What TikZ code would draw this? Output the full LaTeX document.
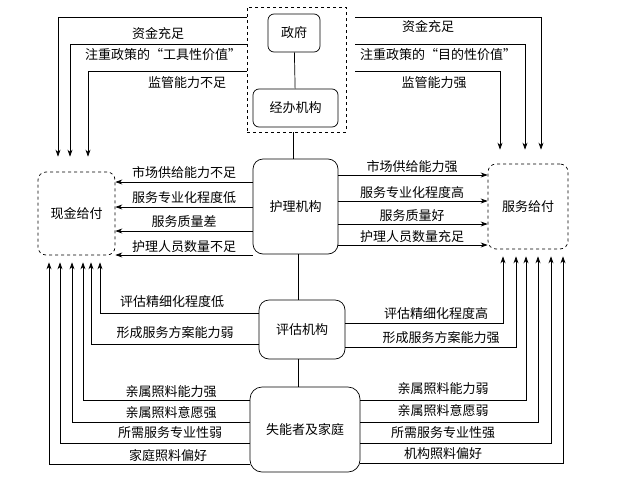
\documentclass[tikz,border=0pt]{standalone}
\usepackage{fontspec}
\newfontfamily\cjk{Noto Sans CJK SC}
\usetikzlibrary{arrows.meta}
\begin{document}
\begin{tikzpicture}[x=1pt,y=-1pt,
  font={\cjk\fontsize{13}{15}\selectfont},
  line width=0.7pt,
  box/.style={draw, rounded corners=6pt, align=center, inner sep=0pt},
  dbox/.style={draw, dashed, rounded corners=8pt, inner sep=0pt},
  arr/.style={-{Stealth[length=7pt,width=5pt]}},
  lbl/.style={inner sep=0pt}]
\useasboundingbox (0,0) rectangle (636,482);
% nodes
\node[dbox, rounded corners=0pt, minimum width=99pt, minimum height=125pt] (tb) at (296.5,69.5) {};
\node[box, minimum width=52pt, minimum height=38pt] (gov) at (294,33) {政府};
\node[box, minimum width=85pt, minimum height=38pt] (agency) at (295.5,108) {经办机构};
\node[box, rounded corners=10pt, minimum width=85pt, minimum height=95pt] (nurse) at (295.5,206.5) {护理机构};
\node[box, rounded corners=10pt, minimum width=86pt, minimum height=59pt] (eval) at (302,329.5) {评估机构};
\node[box, rounded corners=12pt, minimum width=110pt, minimum height=85pt] (fam) at (305,429.5) {失能者及家庭};
\node[dbox, minimum width=77pt, minimum height=83pt] (cash) at (76.5,213.5) {现金给付};
\node[dbox, minimum width=80pt, minimum height=85pt] (serv) at (528,206.5) {服务给付};
% vertical links
\draw (gov) -- (agency);
\draw (tb.south -| 293,0) -- (nurse.north -| 293,0);
\draw (nurse.south -| 298,0) -- (eval.north -| 298,0);
\draw (eval.south -| 298,0) -- (fam.north -| 298,0);
% top box to cash
\draw[arr, shorten >=15pt] (tb.west |- 0,17) -| (cash.north -| 58,0);
\draw[arr, shorten >=15pt] (tb.west |- 0,44) -| (cash.north -| 70,0);
\draw[arr, shorten >=15pt] (tb.west |- 0,71) -| (cash.north -| 88,0);
% top box to service
\draw[arr, shorten <=9pt, shorten >=14pt] (tb.east |- 0,17) -| (serv.north -| 541,0);
\draw[arr, shorten <=9pt, shorten >=14pt] (tb.east |- 0,44) -| (serv.north -| 525,0);
\draw[arr, shorten <=9pt, shorten >=14pt] (tb.east |- 0,71) -| (serv.north -| 500,0);
% nursing to cash
\draw[arr] (nurse.west |- 0,182) -- (cash.east |- 0,182);
\draw[arr] (nurse.west |- 0,207) -- (cash.east |- 0,207);
\draw[arr] (nurse.west |- 0,231) -- (cash.east |- 0,231);
\draw[arr] (nurse.west |- 0,255) -- (cash.east |- 0,255);
% nursing to service
\draw[arr] (nurse.east |- 0,175) -- (serv.west |- 0,175);
\draw[arr] (nurse.east |- 0,201) -- (serv.west |- 0,201);
\draw[arr] (nurse.east |- 0,224) -- (serv.west |- 0,224);
\draw[arr] (nurse.east |- 0,245) -- (serv.west |- 0,245);
% evaluation
\draw[arr, shorten >=7pt] (eval.west |- 0,313) -| (cash.south -| 100,0);
\draw[arr, shorten >=7pt] (eval.west |- 0,344) -| (cash.south -| 91,0);
\draw[arr, shorten >=7pt] (eval.east |- 0,323) -| (serv.south -| 503,0);
\draw[arr, shorten >=7pt] (eval.east |- 0,347) -| (serv.south -| 516,0);
% family
\draw[arr, shorten >=7pt] (fam.west |- 0,400) -| (cash.south -| 83,0);
\draw[arr, shorten >=7pt] (fam.west |- 0,422) -| (cash.south -| 72,0);
\draw[arr, shorten >=7pt] (fam.west |- 0,443) -| (cash.south -| 60,0);
\draw[arr, shorten >=7pt] (fam.west |- 0,464) -| (cash.south -| 49,0);
\draw[arr, shorten >=7pt] (fam.east |- 0,400) -| (serv.south -| 526,0);
\draw[arr, shorten >=7pt] (fam.east |- 0,422) -| (serv.south -| 538,0);
\draw[arr, shorten >=7pt] (fam.east |- 0,443) -| (serv.south -| 551,0);
\draw[arr, shorten >=7pt] (fam.east |- 0,463) -| (serv.south -| 563,0);
% labels top
\node[lbl] (t1) at (158,34) {资金充足};
\node[lbl] (t2) at (163,55) {注重政策的“工具性价值”};
\node[lbl] (t3) at (187,83) {监管能力不足};
\node[lbl] (t4) at (428,27) {资金充足};
\node[lbl] (t5) at (438,55) {注重政策的“目的性价值”};
\node[lbl] (t6) at (434,83) {监管能力强};
% labels middle
\node[lbl] (m1) at (184,173) {市场供给能力不足};
\node[lbl] (m2) at (184,198) {服务专业化程度低};
\node[lbl] (m3) at (184,222) {服务质量差};
\node[lbl] (m4) at (184,247) {护理人员数量不足};
\node[lbl] (m5) at (412,167) {市场供给能力强};
\node[lbl] (m6) at (412,193) {服务专业化程度高};
\node[lbl] (m7) at (412,216) {服务质量好};
\node[lbl] (m8) at (412,237) {护理人员数量充足};
% labels bottom
\node[lbl] (b1) at (172,302) {评估精细化程度低};
\node[lbl] (b2) at (175,333) {形成服务方案能力弱};
\node[lbl] (b3) at (171,392) {亲属照料能力强};
\node[lbl] (b4) at (171,413) {亲属照料意愿强};
\node[lbl] (b5) at (170,433) {所需服务专业性弱};
\node[lbl] (b6) at (168,456) {家庭照料偏好};
\node[lbl] (b7) at (436,314) {评估精细化程度高};
\node[lbl] (b8) at (441,338) {形成服务方案能力强};
\node[lbl] (b9) at (443,389) {亲属照料能力弱};
\node[lbl] (b10) at (443,411) {亲属照料意愿弱};
\node[lbl] (b11) at (443,433) {所需服务专业性强};
\node[lbl] (b12) at (443,454) {机构照料偏好};
\end{tikzpicture}
\end{document}
